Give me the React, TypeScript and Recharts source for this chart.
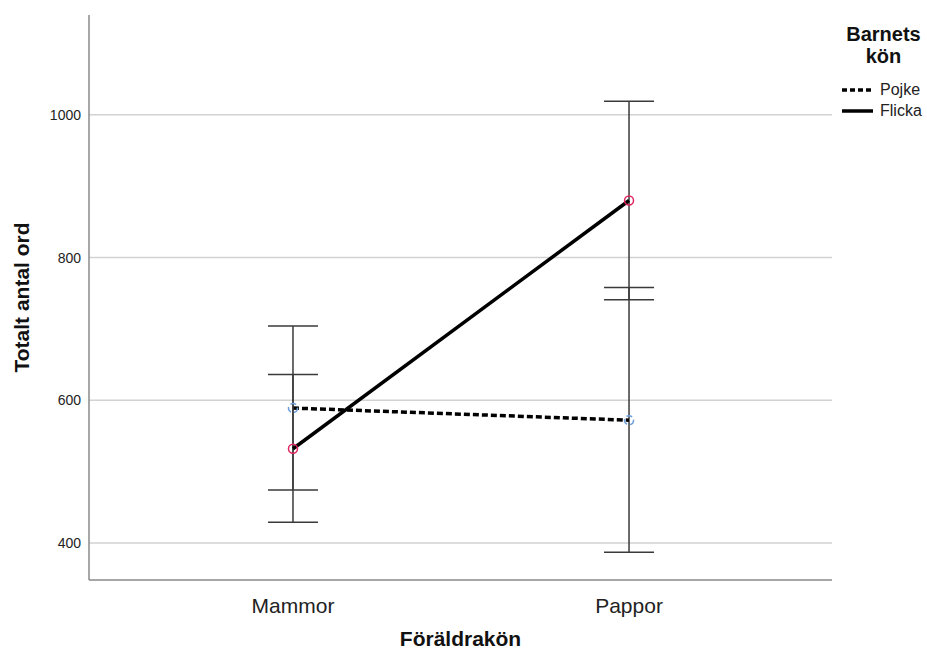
import React from 'react';
import {
  LineChart,
  Line,
  XAxis,
  YAxis,
  CartesianGrid,
  ErrorBar,
} from 'recharts';

// Föräldrakön categories
const categories = ['Mammor', 'Pappor'];

// Pojke (dashed)
const pojkeMean = [589, 572];
const pojkeLow = [474, 387];
const pojkeHigh = [704, 758];

// Flicka (solid)
const flickaMean = [532, 880];
const flickaLow = [429, 741];
const flickaHigh = [636, 1019];

const yTicks = [400, 600, 800, 1000];

const series = [
  { key: 'pojke', name: 'Pojke', dash: '6 3', dot: '#6c9fdc' },
  { key: 'flicka', name: 'Flicka', dash: undefined, dot: '#e0245e' },
];

const data = categories.map((cat, i) => ({
  x: i,
  cat,
  pojke: pojkeMean[i],
  pojkeErr: [pojkeMean[i] - pojkeLow[i], pojkeHigh[i] - pojkeMean[i]],
  flicka: flickaMean[i],
  flickaErr: [flickaMean[i] - flickaLow[i], flickaHigh[i] - flickaMean[i]],
}));

const FONT = '"Liberation Sans", Arial, sans-serif';

const App: React.FC = () => {
  return (
    <div style={{ position: 'absolute', left: 0, top: 0, width: 927, height: 653, background: '#fff', fontFamily: FONT }}>
      <LineChart width={927} height={653} data={data} margin={{ top: 15, right: 95, bottom: 33, left: 0 }}>
        <CartesianGrid vertical={false} horizontalValues={yTicks} stroke="#d2d2d2" strokeWidth={1.5} />
        <XAxis
          dataKey="x"
          type="number"
          domain={[-0.607, 1.604]}
          ticks={[0, 1]}
          allowDataOverflow
          tickFormatter={(v: number) => categories[v]}
          tickLine={false}
          tickMargin={12}
          height={40}
          stroke="#8a8a8a"
          strokeWidth={1.5}
          tick={{ fill: '#222', fontSize: 21, fontFamily: FONT }}
          label={{
            content: ({ viewBox }: any) => (
              <text
                x={viewBox.x + viewBox.width / 2}
                y={viewBox.y + viewBox.height + 26}
                textAnchor="middle"
                fontSize={21}
                fontWeight="bold"
                fontFamily={FONT}
                fill="#111"
              >
                Föräldrakön
              </text>
            ),
          }}
        />
        <YAxis
          type="number"
          domain={[348, 1140]}
          ticks={yTicks}
          allowDataOverflow
          tickLine={false}
          width={89}
          stroke="#8a8a8a"
          strokeWidth={1.5}
          tick={{ fill: '#222', fontSize: 14, fontFamily: FONT }}
          label={{
            content: ({ viewBox }: any) => {
              const cx = 21;
              const cy = viewBox.y + viewBox.height / 2 + 0;
              return (
                <text
                  x={cx}
                  y={cy}
                  transform={`rotate(-90 ${cx} ${cy})`}
                  textAnchor="middle"
                  dominantBaseline="central"
                  fontSize={21}
                  fontWeight="bold"
                  fontFamily={FONT}
                  fill="#111"
                >
                  Totalt antal ord
                </text>
              );
            },
          }}
        />
        {series.map((s) => (
          <Line
            key={s.key}
            dataKey={s.key}
            name={s.name}
            stroke="#000"
            strokeWidth={3.5}
            strokeDasharray={s.dash}
            isAnimationActive={false}
            dot={{ r: 4.5, stroke: s.dot, strokeWidth: 1.5, fill: 'none' }}
            activeDot={false}
          >
            <ErrorBar dataKey={`${s.key}Err`} width={25} stroke="#3a3a3a" strokeWidth={1.5} />
          </Line>
        ))}
      </LineChart>

      <div style={{ position: 'absolute', left: 836, top: 23, width: 95, fontFamily: FONT }}>
        <div style={{ textAlign: 'center', fontWeight: 'bold', fontSize: 20, lineHeight: '22px', color: '#111' }}>
          Barnets
          <br />
          kön
        </div>
        <div style={{ marginTop: 12 }}>
          {series.map((s) => (
            <div key={s.key} style={{ display: 'flex', alignItems: 'center', height: 21 }}>
              <svg width={38} height={10} style={{ marginLeft: 5 }}>
                <line x1={1} y1={5} x2={32} y2={5} stroke="#000" strokeWidth={3.5} strokeDasharray={s.dash ? '5 3' : undefined} />
              </svg>
              <span style={{ fontSize: 16, color: '#222', marginLeft: 1 }}>{s.name}</span>
            </div>
          ))}
        </div>
      </div>
    </div>
  );
};

export default App;
